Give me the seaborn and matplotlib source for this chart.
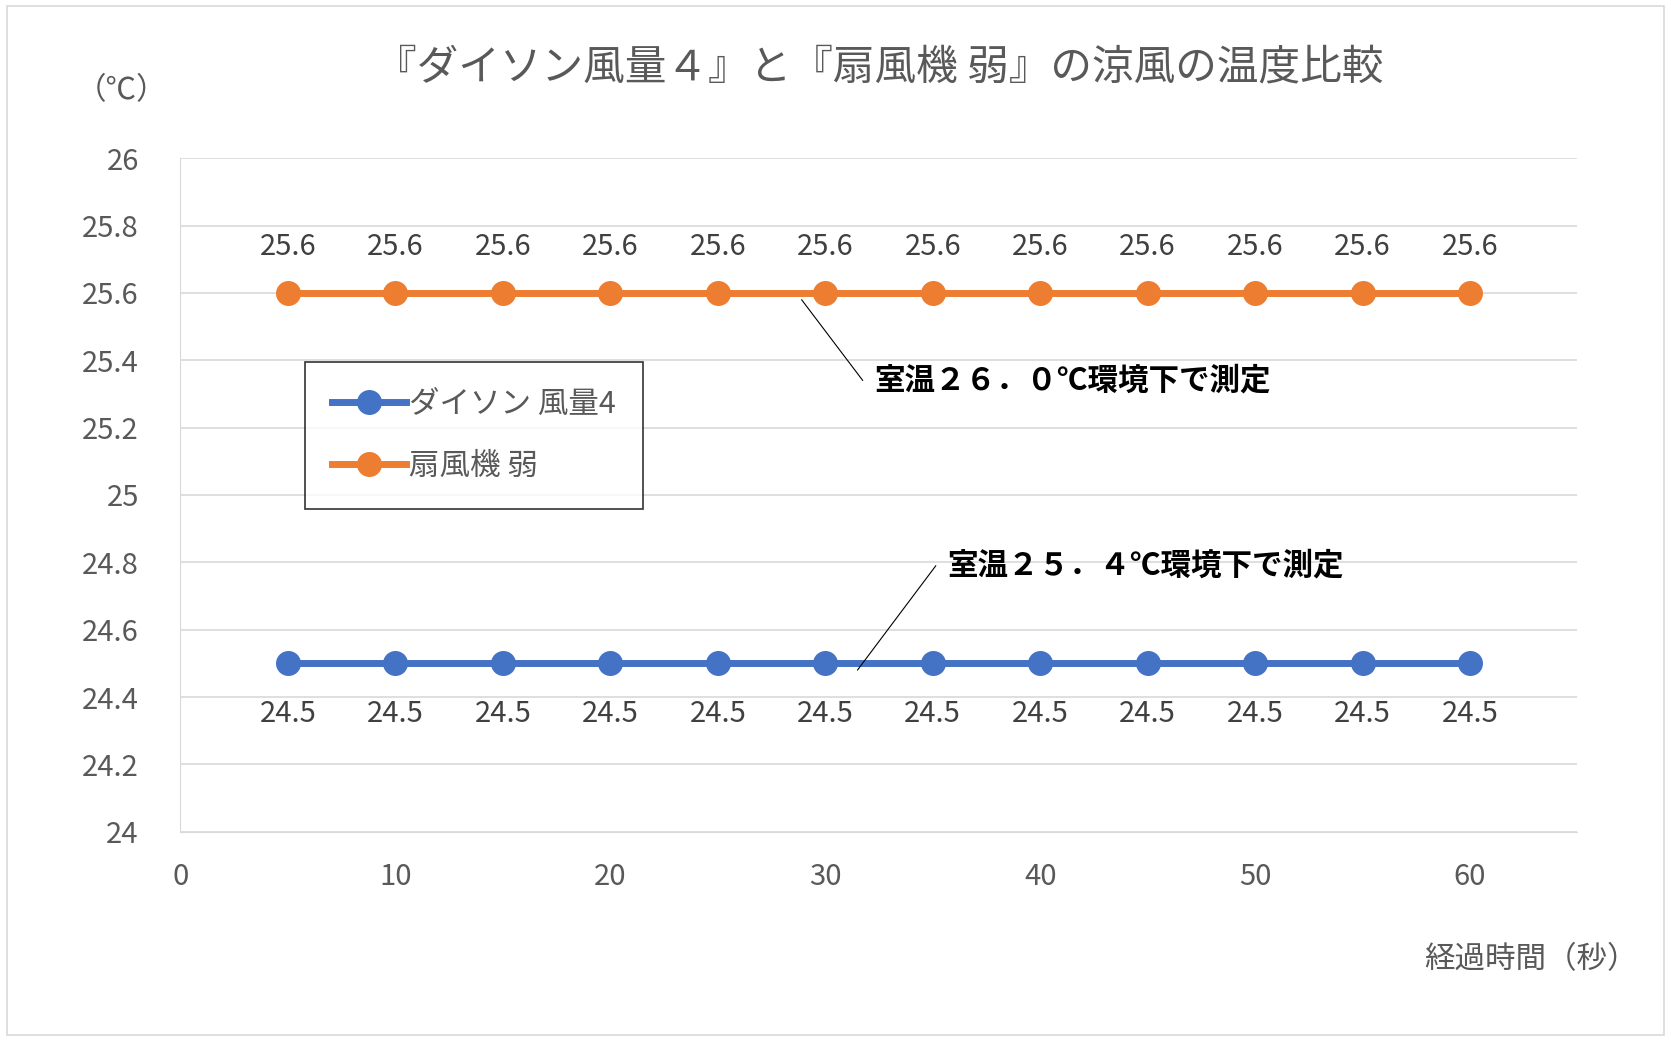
import matplotlib
matplotlib.use("Agg")
import matplotlib.pyplot as plt
import seaborn as sns
import pandas as pd

times = [5, 10, 15, 20, 25, 30, 35, 40, 45, 50, 55, 60]
dyson = [24.5] * 12
fan = [25.6] * 12
series_names = ["ダイソン 風量4", "扇風機 弱"]
colors = ["#4472C4", "#ED7D31"]

plt.rcParams["font.family"] = "Noto Sans CJK JP"
df = pd.DataFrame({"t": times * 2, "v": dyson + fan,
                   "s": [series_names[0]] * 12 + [series_names[1]] * 12})

fig = plt.figure(figsize=(16.71, 10.41), dpi=100)
ax = fig.add_axes([0.108, 0.201, 0.836, 0.647])
sns.lineplot(data=df, x="t", y="v", hue="s", palette=colors, marker="o",
             markersize=18, linewidth=5, markeredgewidth=0, ax=ax)
for t, v in zip(times, dyson):
    ax.text(t, v - 0.15, f"{v}", ha="center", va="center", fontsize=21, color="#404040")
for t, v in zip(times, fan):
    ax.text(t, v + 0.135, f"{v}", ha="center", va="center", fontsize=21, color="#404040")
ax.set_xlim(0, 65)
ax.set_ylim(24, 26)
ax.set_xticks(range(0, 61, 10))
ax.set_yticks([24 + 0.2 * i for i in range(11)])
ax.set_yticklabels(["24", "24.2", "24.4", "24.6", "24.8", "25", "25.2", "25.4", "25.6", "25.8", "26"])
ax.tick_params(labelsize=21, colors="#595959", length=0)
ax.tick_params(axis="x", pad=22)
ax.tick_params(axis="y", pad=30)
ax.grid(axis="y", color="#D9D9D9", linewidth=1.2)
ax.set_axisbelow(True)
for s in ["top", "right"]:
    ax.spines[s].set_visible(False)
ax.spines["left"].set_color("#D9D9D9")
ax.spines["bottom"].set_color("#D9D9D9")
ax.set_xlabel(""); ax.set_ylabel("")

ax.annotate("室温２６．０℃環境下で測定", xy=(28.9, 25.58), xytext=(32.3, 25.34),
            fontsize=22, fontweight="bold", color="black", va="center",
            arrowprops=dict(arrowstyle="-", color="black", lw=0.8, shrinkA=0, shrinkB=0,
                            relpos=(-0.03, 0.5)))
ax.annotate("室温２５．４℃環境下で測定", xy=(31.5, 24.48), xytext=(35.7, 24.79),
            fontsize=22, fontweight="bold", color="black", va="center",
            arrowprops=dict(arrowstyle="-", color="black", lw=0.8, shrinkA=0, shrinkB=0,
                            relpos=(-0.03, 0.5)))

leg = ax.legend(loc="upper left", bbox_to_anchor=(0.089, 0.698), fontsize=22,
                frameon=True, fancybox=False, edgecolor="black", handlelength=2.4,
                borderpad=0.9, labelspacing=1.0, labelcolor="#595959", handletextpad=0.1,
                borderaxespad=0)
leg.get_frame().set_linewidth(1.2)
leg._legend_box.align = "left"
for t in leg.get_texts():
    t.set_text(t.get_text())
leg.get_frame().set_width(1)

fig.text(0.526, 0.935, "『ダイソン風量４』と『扇風機 弱』の涼風の温度比較",
         ha="center", va="center", fontsize=30, color="#595959")
fig.text(0.073, 0.913, "（℃）", ha="center", va="center", fontsize=22, color="#595959")
fig.text(0.98, 0.078, "経過時間（秒）", ha="right", va="center", fontsize=22, color="#595959")
fig.patches.append(plt.Rectangle((0.004, 0.006), 0.992, 0.988, transform=fig.transFigure,
                                 fill=False, edgecolor="#D9D9D9", lw=1.2))
fig.savefig("out.png", dpi=100)
